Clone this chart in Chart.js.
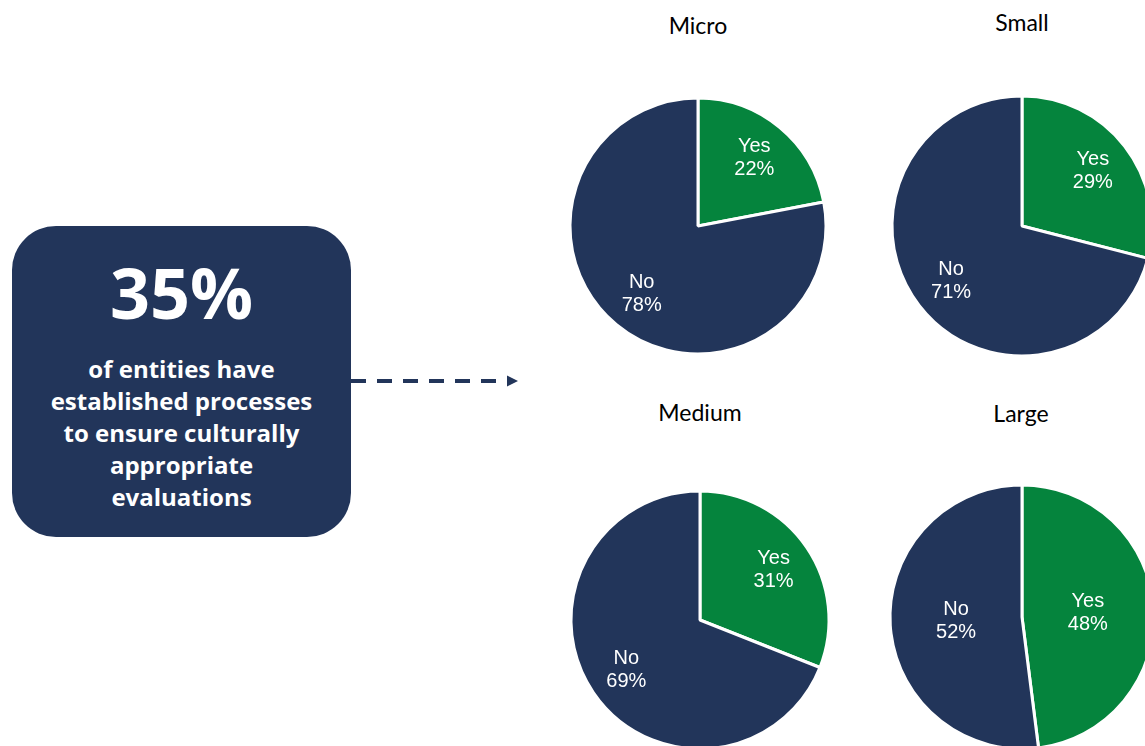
<!DOCTYPE html>
<html>
<head>
<meta charset="utf-8">
<script src="https://cdn.jsdelivr.net/npm/chart.js@4.4.9/dist/chart.umd.min.js"></script>
<style>
  html, body { margin: 0; padding: 0; background: #fff; }
  body { width: 1145px; height: 746px; position: relative; overflow: hidden; }
  .box {
    position: absolute; left: 12px; top: 226px; width: 339px; height: 311px;
    background: #22355a; border-radius: 44px; color: #fff; text-align: center;
    font-family: "Open Sans", Lato, sans-serif; font-weight: 700;
    font-variant-ligatures: none;
  }
  .big { position: absolute; left: 0; right: 0; top: 26px; font-size: 70px; line-height: 80px; }
  .txt { position: absolute; left: 0; right: 0; top: 127px; font-size: 24px; line-height: 32px; }
  .title {
    position: absolute; width: 200px; margin-left: -100px; text-align: center;
    font-family: Lato, "Open Sans", sans-serif; font-size: 23px; line-height: 28px; color: #000;
  }
  .pie { position: absolute; width: 300px; height: 300px; }
  svg { position: absolute; left: 0; top: 0; }
</style>
</head>
<body>
<div class="box">
  <div class="big">35%</div>
  <div class="txt">of entities have<br>established processes<br>to ensure culturally<br>appropriate<br>evaluations</div>
</div>
<svg width="540" height="746">
  <line x1="351" y1="381" x2="507" y2="381" stroke="#22355a" stroke-width="4" stroke-dasharray="15 11"/>
  <polygon points="507,375.5 518,381 507,386.5" fill="#22355a"/>
</svg>

<div class="title" style="left:698px; top:11px;">Micro</div>
<div class="title" style="left:1022px; top:8px;">Small</div>
<div class="title" style="left:700px; top:398px;">Medium</div>
<div class="title" style="left:1021px; top:399px;">Large</div>

<div class="pie" style="left:548px; top:76px;"><canvas id="micro" width="300" height="300"></canvas></div>
<div class="pie" style="left:872px; top:76px;"><canvas id="small" width="300" height="300"></canvas></div>
<div class="pie" style="left:550px; top:470px;"><canvas id="medium" width="300" height="300"></canvas></div>
<div class="pie" style="left:872px; top:467px;"><canvas id="large" width="300" height="300"></canvas></div>

<script>
const labels = ['Yes', 'No'];
const microValues = [22, 78];
const smallValues = [29, 71];
const mediumValues = [31, 69];
const largeValues = [48, 52];

const colors = ['#05843d', '#22355a'];

// draws "Yes / 22%" inside each slice
const sliceLabels = {
    id: 'sliceLabels',
    afterDatasetsDraw(chart, args, opts) {
        const ctx = chart.ctx;
        const meta = chart.getDatasetMeta(0);
        const data = chart.data.datasets[0].data;
        ctx.save();
        ctx.fillStyle = '#fff';
        ctx.font = '20px "Liberation Sans", Arial, sans-serif';
        ctx.textAlign = 'center';
        ctx.textBaseline = 'middle';
        meta.data.forEach((arc, i) => {
            const { x, y, startAngle, endAngle, outerRadius } = arc.getProps(['x', 'y', 'startAngle', 'endAngle', 'outerRadius'], true);
            const mid = (startAngle + endAngle) / 2;
            const r = outerRadius * opts.ratio;
            const px = x + Math.cos(mid) * r;
            const py = y + Math.sin(mid) * r;
            ctx.fillText(chart.data.labels[i], px, py - 11.5);
            ctx.fillText(data[i] + '%', px, py + 11.5);
        });
        ctx.restore();
    }
};

const generatePie = (id, values, radius, ratio) => {
    const ctx = document.getElementById(id).getContext('2d');
    return new Chart(ctx, {
        type: 'pie',
        data: {
            labels: labels,
            datasets: [{
                data: values,
                backgroundColor: colors,
                borderColor: '#fff',
                borderWidth: 3
            }]
        },
        options: {
            responsive: false,
            animation: false,
            radius: radius,
            layout: { padding: 0 },
            plugins: {
                legend: { display: false },
                tooltip: { enabled: false },
                sliceLabels: { ratio: ratio }
            }
        },
        plugins: [sliceLabels]
    });
};

generatePie('micro', microValues, 128, 0.69);
generatePie('small', smallValues, 130, 0.69);
generatePie('medium', mediumValues, 129, 0.69);
generatePie('large', largeValues, 132, 0.5);
</script>
</body>
</html>
